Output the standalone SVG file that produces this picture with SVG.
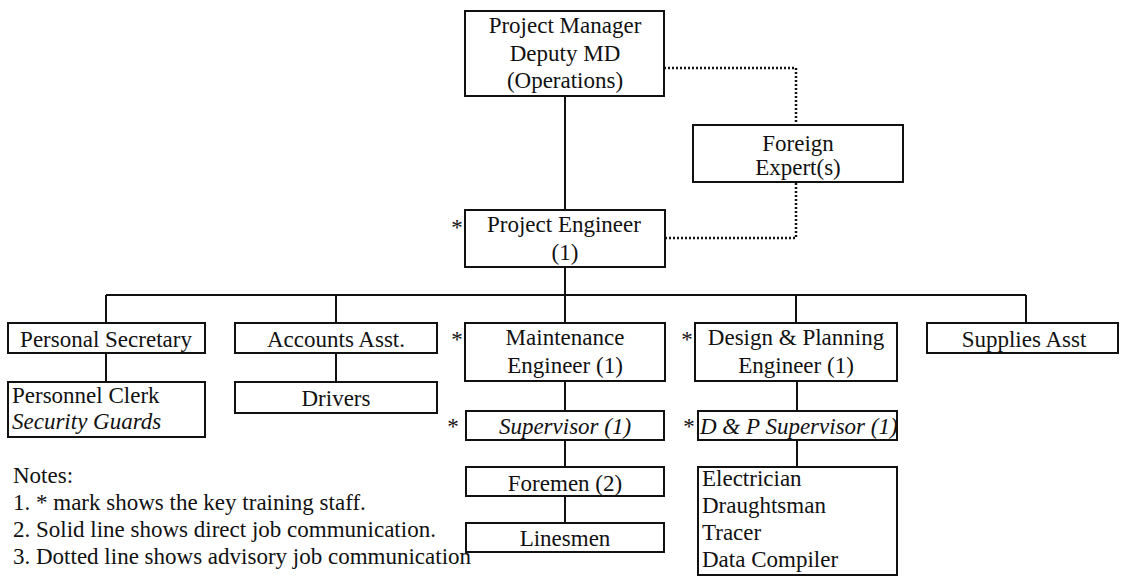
<svg xmlns="http://www.w3.org/2000/svg" width="1122" height="581" viewBox="0 0 1122 581">
  <style>
    .box { fill: #ffffff; stroke: #111111; stroke-width: 2; }
    .t { font-family: "Liberation Serif", "Times New Roman", serif; font-size: 23px; fill: #111111; }
    .c { text-anchor: middle; }
    .i { font-style: italic; }
    .solid { fill: none; stroke: #111111; stroke-width: 2; }
    .dotted { fill: none; stroke: #111111; stroke-width: 2.5; stroke-dasharray: 2 2; }
  </style>

  <!-- connectors -->
  <g id="connectors">
    <path class="solid" d="M565 96 V210"/>
    <path class="solid" d="M565 267 V323"/>
    <path class="solid" d="M106 295 H1026"/>
    <path class="solid" d="M106 295 V323 M336 295 V323 M796 295 V323 M1026 295 V323"/>
    <path class="solid" d="M106 353 V382 M336 353 V382"/>
    <path class="solid" d="M565 381 V411 M565 440 V467 M565 496 V523"/>
    <path class="solid" d="M797 381 V411 M797 440 V467"/>
    <path class="dotted" d="M664 68 H796 V125"/>
    <path class="dotted" d="M665 238 H796 V182"/>
  </g>

  <g id="project-manager">
    <rect class="box" x="465" y="11" width="199" height="85"/>
    <text class="t c" x="565" y="33">Project Manager</text>
    <text class="t c" x="565" y="61">Deputy MD</text>
    <text class="t c" x="565" y="88">(Operations)</text>
  </g>

  <g id="foreign-experts">
    <rect class="box" x="693" y="125" width="210" height="57"/>
    <text class="t c" x="798" y="151">Foreign</text>
    <text class="t c" x="798" y="175">Expert(s)</text>
  </g>

  <g id="project-engineer">
    <text class="t c" x="457" y="235">*</text>
    <rect class="box" x="465" y="210" width="200" height="57"/>
    <text class="t c" x="564" y="232">Project Engineer</text>
    <text class="t c" x="565" y="260">(1)</text>
  </g>

  <g id="personal-secretary">
    <rect class="box" x="8" y="323" width="197" height="30"/>
    <text class="t c" x="106" y="347">Personal Secretary</text>
  </g>

  <g id="accounts-asst">
    <rect class="box" x="235" y="323" width="202" height="30"/>
    <text class="t c" x="336" y="347">Accounts Asst.</text>
  </g>

  <g id="maintenance-engineer">
    <text class="t c" x="457" y="347">*</text>
    <rect class="box" x="465" y="323" width="200" height="58"/>
    <text class="t c" x="565" y="345">Maintenance</text>
    <text class="t c" x="565" y="373">Engineer (1)</text>
  </g>

  <g id="design-planning-engineer">
    <text class="t c" x="687" y="347">*</text>
    <rect class="box" x="695" y="323" width="202" height="58"/>
    <text class="t c" x="796" y="345">Design &amp; Planning</text>
    <text class="t c" x="796" y="373">Engineer (1)</text>
  </g>

  <g id="supplies-asst">
    <rect class="box" x="927" y="323" width="191" height="30"/>
    <text class="t c" x="1024" y="347">Supplies Asst</text>
  </g>

  <g id="personnel-clerk">
    <rect class="box" x="8" y="382" width="197" height="55"/>
    <text class="t" x="12" y="403">Personnel Clerk</text>
    <text class="t i" x="12" y="429">Security Guards</text>
  </g>

  <g id="drivers">
    <rect class="box" x="235" y="382" width="202" height="31"/>
    <text class="t c" x="336" y="406">Drivers</text>
  </g>

  <g id="supervisor">
    <text class="t c" x="453" y="434">*</text>
    <rect class="box" x="466" y="411" width="198" height="29"/>
    <text class="t c i" x="565" y="434">Supervisor (1)</text>
  </g>

  <g id="dp-supervisor">
    <text class="t c" x="689" y="434">*</text>
    <rect class="box" x="698" y="411" width="199" height="29"/>
    <text class="t i" x="700" y="434">D &amp; P Supervisor (1)</text>
  </g>

  <g id="foremen">
    <rect class="box" x="466" y="467" width="198" height="29"/>
    <text class="t c" x="565" y="491">Foremen (2)</text>
  </g>

  <g id="linesmen">
    <rect class="box" x="466" y="523" width="198" height="29"/>
    <text class="t c" x="565" y="546">Linesmen</text>
  </g>

  <g id="drawing-staff">
    <rect class="box" x="698" y="467" width="199" height="108"/>
    <text class="t" x="702" y="486">Electrician</text>
    <text class="t" x="702" y="513">Draughtsman</text>
    <text class="t" x="702" y="540">Tracer</text>
    <text class="t" x="702" y="567">Data Compiler</text>
  </g>

  <g id="notes">
    <text class="t" x="13" y="483">Notes:</text>
    <text class="t" x="13" y="510">1. * mark shows the key training staff.</text>
    <text class="t" x="13" y="537">2. Solid line shows direct job communication.</text>
    <text class="t" x="13" y="564">3. Dotted line shows advisory job communication</text>
  </g>
</svg>
